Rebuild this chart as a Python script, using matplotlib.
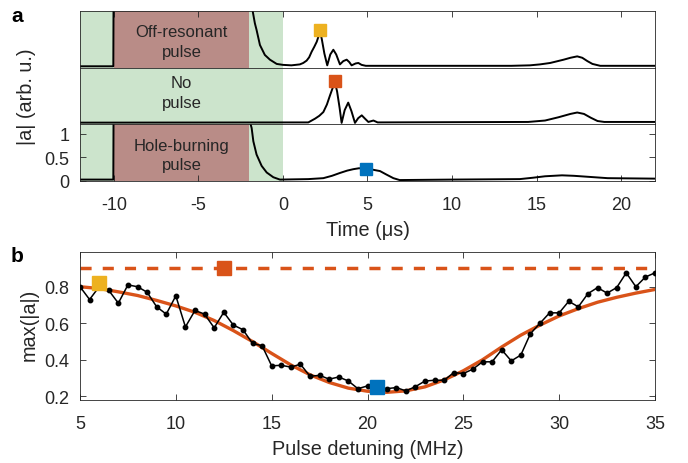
import numpy as np
import matplotlib.pyplot as plt

plt.rcParams['font.family'] = ['Liberation Sans', 'DejaVu Sans']
plt.rcParams['axes.unicode_minus'] = False

# ---- panel a: |a| traces (time in us) ----
t_off = [-12, -10.03, -10, -2.0, -1.79, -1.66, -1.56, -1.36, -1.07, -0.77, -0.37, 0.0, 0.5, 1.0,
         1.2, 1.4, 1.55, 1.7, 1.85, 2.0, 2.1, 2.2, 2.3, 2.45, 2.62, 2.8, 2.98, 3.15, 3.37, 3.57,
         3.77, 3.92, 4.06, 4.3, 4.46, 4.65, 4.9, 8, 13.5, 14.6, 15.2, 15.8, 16.6, 17.0, 17.4,
         17.7, 18.0, 18.3, 18.76, 22]
a_off = [0.03, 0.03, 3.0, 3.0, 1.2, 0.94, 0.8, 0.48, 0.27, 0.17, 0.08, 0.06, 0.05, 0.07,
         0.1, 0.15, 0.22, 0.34, 0.44, 0.55, 0.66, 0.78, 0.6, 0.3, 0.05, 0.28, 0.38, 0.28, 0.07, 0.14,
         0.17, 0.12, 0.05, 0.09, 0.1, 0.06, 0.04, 0.04, 0.04, 0.05, 0.07, 0.1, 0.17, 0.21, 0.24,
         0.21, 0.14, 0.08, 0.04, 0.04]

t_none = [-12, 1.5, 1.9, 2.15, 2.39, 2.6, 2.78, 2.95, 3.08, 3.2, 3.35, 3.47, 3.65, 3.86, 4.05,
          4.26, 4.45, 4.66, 4.85, 5.05, 5.35, 5.6, 14.5, 15.5, 16.3, 17.0, 17.4, 17.8, 18.2,
          18.6, 19.0, 22]
a_none = [0.035, 0.04, 0.12, 0.18, 0.26, 0.42, 0.61, 0.78, 0.88, 0.7, 0.35, 0.03, 0.3, 0.46, 0.28,
          0.03, 0.13, 0.19, 0.12, 0.05, 0.08, 0.04, 0.05, 0.08, 0.15, 0.22, 0.25, 0.22, 0.14,
          0.07, 0.05, 0.05]

t_hole = [-12, -10.03, -10, -2.0, -1.91, -1.85, -1.75, -1.56, -1.26, -0.96, -0.57, -0.18, 1.5,
          2.39, 2.9, 3.37, 3.8, 4.16, 4.5, 4.85, 5.3, 5.74, 6.1, 6.53, 6.9, 10, 14, 14.8, 15.5,
          16.5, 17.2, 18.0, 19.2, 22]
a_hole = [0.03, 0.03, 3.0, 3.0, 1.2, 1.12, 0.84, 0.56, 0.32, 0.18, 0.08, 0.03, 0.04,
          0.06, 0.11, 0.17, 0.22, 0.25, 0.27, 0.26, 0.24, 0.21, 0.14, 0.06, 0.02, 0.03, 0.04, 0.07, 0.1,
          0.12, 0.11, 0.09, 0.06, 0.05]

peak_t = [2.2, 3.1, 4.9]
peak_a = [0.8, 0.91, 0.26]

# ---- panel b: max(|a|) vs pulse detuning ----
detuning = [5.0, 5.5, 6.0, 6.5, 7.0, 7.5, 8.0, 8.5, 9.0, 9.5, 10.0, 10.5, 11.0, 11.5, 12.0, 12.5,
            13.0, 13.5, 14.0, 14.5, 15.0, 15.5, 16.0, 16.5, 17.0, 17.5, 18.0, 18.5, 19.0, 19.5,
            20.0, 20.5, 21.0, 21.5, 22.0, 22.5, 23.0, 23.5, 24.0, 24.5, 25.0, 25.5, 26.0, 26.5,
            27.0, 27.5, 28.0, 28.5, 29.0, 29.5, 30.0, 30.5, 31.0, 31.5, 32.0, 32.5, 33.0, 33.5,
            34.0, 34.5, 35.0]
max_a = [0.80, 0.73, 0.80, 0.78, 0.71, 0.81, 0.80, 0.77, 0.69, 0.65, 0.75, 0.58, 0.67, 0.65,
         0.575, 0.66, 0.59, 0.565, 0.49, 0.477, 0.367, 0.37, 0.36, 0.376, 0.31, 0.315, 0.294,
         0.306, 0.284, 0.242, 0.257, 0.25, 0.242, 0.248, 0.23, 0.253, 0.284, 0.288, 0.288, 0.33,
         0.325, 0.349, 0.389, 0.389, 0.455, 0.394, 0.426, 0.543, 0.60, 0.657, 0.657, 0.72, 0.69,
         0.762, 0.795, 0.765, 0.795, 0.876, 0.80, 0.853, 0.876]

fit_f = [5, 6, 7, 8, 9, 10, 11, 12, 13, 14, 15, 16, 17, 18, 19, 20, 21, 22, 23, 24, 25, 26, 27,
         28, 29, 30, 31, 32, 33, 34, 35]
fit_a = [0.800, 0.790, 0.772, 0.752, 0.725, 0.695, 0.660, 0.615, 0.560, 0.500, 0.435, 0.372,
         0.318, 0.276, 0.245, 0.228, 0.222, 0.230, 0.252, 0.290, 0.340, 0.400, 0.470, 0.535,
         0.590, 0.640, 0.680, 0.715, 0.742, 0.765, 0.785]

no_pulse_level = 0.90
mark_f = [6.0, 12.5, 20.5]
mark_a = [0.82, 0.90, 0.25]

colors = ['#EDB120', '#D95319', '#0072BD']
green = '#cce4cc'
brown = '#b98c87'
dark = '#262626'
tick_fs = 13
label_fs = 14.3

W, H = 688, 464
fig = plt.figure(figsize=(W / 100, H / 100), dpi=100)


def rect(l, t, r, b):
    return [l / W, 1 - b / H, (r - l) / W, (b - t) / H]


tops = [12, 68.7, 125.3, 182]
traces = [(t_off, a_off), (t_none, a_none), (t_hole, a_hole)]
labels = ['Off-resonant\npulse', 'No\npulse', 'Hole-burning\npulse']
for i in range(3):
    ax = fig.add_axes(rect(80, tops[i], 655, tops[i + 1]))
    ax.set_xlim(-12, 22)
    ax.set_ylim(0, 1.2)
    ax.axvspan(-12, 0, color=green, lw=0, zorder=0)
    if i != 1:
        ax.axvspan(-10, -2, color=brown, lw=0, zorder=0.5)
    ax.plot(traces[i][0], traces[i][1], color='black', lw=1.4, zorder=2)
    ax.plot(peak_t[i], peak_a[i], 's', color=colors[i], ms=8.5, zorder=3)
    ax.text(-6, 0.55 if i != 1 else 0.68, labels[i], ha='center', va='center',
            fontsize=12, color=dark, linespacing=1.4)
    for s in ax.spines.values():
        s.set_color(dark)
        s.set_linewidth(0.6)
    ax.set_xticks([-10, -5, 0, 5, 10, 15, 20])
    ax.tick_params(direction='in', length=4, width=0.6, colors=dark, labelsize=tick_fs,
                   bottom=(i == 2), top=(i == 0), labelbottom=(i == 2), labeltop=False,
                   left=False, right=False, labelleft=False, pad=11)
    if i == 2:
        ax.set_yticks([0, 0.5, 1])
        ax.set_yticklabels(['0', '0.5', '1'])
        ax.tick_params(axis='y', left=True, right=True, labelleft=True, pad=7.5)
        ax.set_xlabel('Time (μs)', fontsize=label_fs, color=dark, labelpad=5)
    else:
        ax.set_yticks([])

fig.text(27 / W, 1 - 97 / H, '|a| (arb. u.)', rotation=90, ha='center', va='center',
         fontsize=label_fs, color=dark)

# panel b
axb = fig.add_axes(rect(80, 253, 655, 401))
axb.plot(fit_f, fit_a, color=colors[1], lw=2.4, zorder=2)
axb.axhline(no_pulse_level, color=colors[1], lw=2.5, ls=(0, (3.2, 3.2)), zorder=2)
axb.plot(detuning, max_a, color='black', lw=1.1, marker='o', ms=3.2, zorder=3)
for f, a, c in zip(mark_f, mark_a, colors):
    axb.plot(f, a, 's', color=c, ms=10, zorder=4)
axb.set_xlim(5, 35)
axb.set_ylim(0.18, 0.99)
axb.set_xticks([5, 10, 15, 20, 25, 30, 35])
axb.set_yticks([0.2, 0.4, 0.6, 0.8])
axb.tick_params(direction='in', length=4, width=0.6, colors=dark, labelsize=tick_fs,
                top=True, right=True, pad=11)
axb.tick_params(axis='y', pad=7.5)
for s in axb.spines.values():
    s.set_color(dark)
    s.set_linewidth(0.6)
axb.set_xlabel('Pulse detuning (MHz)', fontsize=label_fs, color=dark, labelpad=5)
fig.text(29 / W, 1 - 325 / H, 'max(|a|)', rotation=90, ha='center', va='center',
         fontsize=label_fs, color=dark)

fig.text(17 / W, 1 - 16 / H, 'a', fontsize=15, fontweight='bold', ha='center', va='center')
fig.text(17 / W, 1 - 256 / H, 'b', fontsize=15, fontweight='bold', ha='center', va='center')

fig.savefig('out.png', dpi=100)
